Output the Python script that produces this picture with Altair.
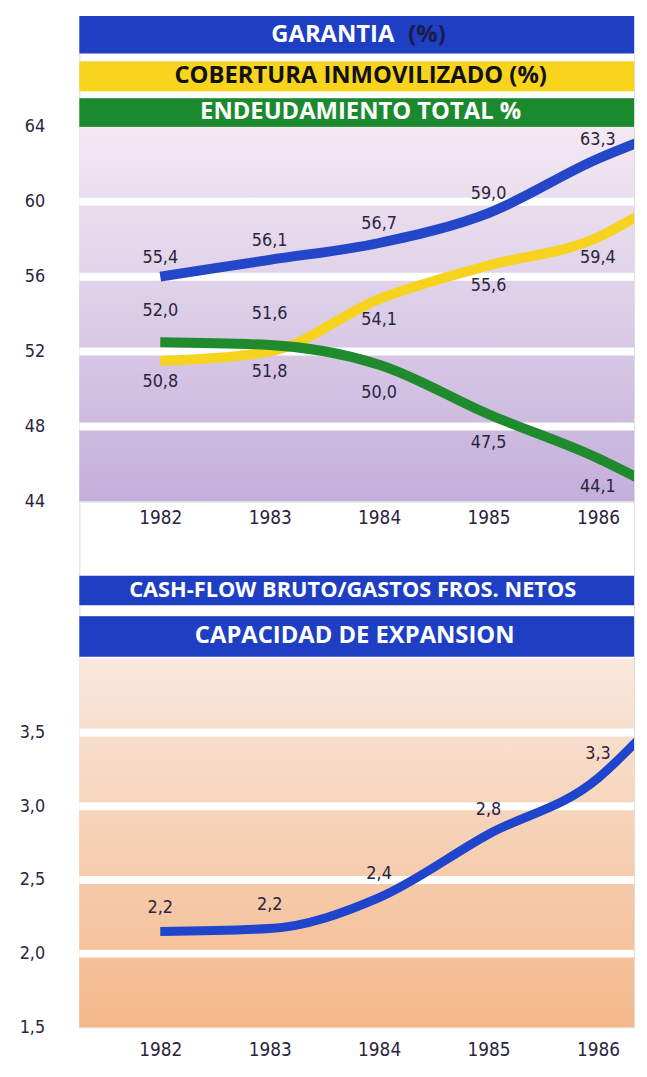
import altair as alt
import pandas as pd

# ---------------- data ----------------
years = [1982, 1983, 1984, 1985, 1986]
# vertices of the drawn curves (the last vertex sits on the right frame)
line_x = [1982, 1983, 1984, 1985, 1986, 1986.38]
garantia_line = [56.0, 56.9, 57.8, 59.4, 62.3, 63.2]
cobertura_line = [51.5, 52.0, 54.8, 56.6, 58.1, 59.3]
endeud_line = [52.5, 52.35, 51.3, 48.65, 46.3, 45.2]
capacidad_line = [2.15, 2.17, 2.38, 2.81, 3.19, 3.46]

garantia_lbl = ["55,4", "56,1", "56,7", "59,0", "63,3"]
cobertura_lbl = ["50,8", "51,8", "54,1", "55,6", "59,4"]
endeud_lbl = ["52,0", "51,6", "50,0", "47,5", "44,1"]
capacidad_lbl = ["2,2", "2,2", "2,4", "2,8", "3,3"]

top_ticks = [44, 48, 52, 56, 60, 64]
top_grid = [48, 52, 56, 60]
bot_ticks = [1.5, 2.0, 2.5, 3.0, 3.5]
bot_grid = [2.0, 2.5, 3.0, 3.5]

series = ["Cobertura", "Endeudamiento", "Garantia"]
series_col = ["#f6d31f", "#1f8b2c", "#2347c8"]

W = 560
NUM_FONT = "Liberation Sans Narrow, DejaVu Sans Condensed, Open Sans, sans-serif"
HDR_FONT = "Open Sans, Lato, sans-serif"
INK = "#2a2440"
TXT_X = 284  # centre of the header lettering, measured from the plot's left edge

xscale = alt.Scale(domain=[1981.26, 1986.33], nice=False, zero=False)
yscale_top = alt.Scale(domain=[44, 64], nice=False, zero=False)
yscale_bot = alt.Scale(domain=[1.5, 4.0], nice=False, zero=False)

lbl_expr = "replace(format(datum.value, '.1f'), '.', ',')"


def x_axis(pad):
    return alt.Axis(values=years, format="d", title=None, grid=False, ticks=False,
                    domain=False, labelPadding=pad, labelFont=NUM_FONT, labelFontSize=19,
                    labelColor=INK)


def y_axis(vals, expr=None):
    kw = dict(values=vals, title=None, grid=False, ticks=False, domain=False,
              labelPadding=35, minExtent=71, labelFont=NUM_FONT, labelFontSize=18,
              labelColor=INK, labelBaseline="middle")
    if expr:
        kw["labelExpr"] = expr
    return alt.Axis(**kw)


def gradient(stops):
    return alt.Gradient(gradient="linear", x1=0, x2=0, y1=0, y2=1,
                        stops=[alt.GradientStop(color=c, offset=o) for o, c in stops])


one = pd.DataFrame({"a": [0]})

# ---------------- top panel ----------------
lines_top = pd.DataFrame({
    "x": line_x * 3,
    "v": cobertura_line + endeud_line + garantia_line,
    "s": ["Cobertura"] * 6 + ["Endeudamiento"] * 6 + ["Garantia"] * 6,
})
rows = []
for name, vals, lbls in [("Garantia", garantia_line, garantia_lbl),
                         ("Cobertura", cobertura_line, cobertura_lbl),
                         ("Endeudamiento", endeud_line, endeud_lbl)]:
    for i, yr in enumerate(years):
        side = "above"
        if name == "Cobertura":
            side = "below"
        if name == "Endeudamiento" and endeud_line[i] < cobertura_line[i]:
            side = "below"
        rows.append({"x": yr, "v": vals[i], "t": lbls[i], "s": name, "side": side})
labels_top = pd.DataFrame(rows)

axX_top = x_axis(7)
axY_top = y_axis(top_ticks)

bg_top = alt.Chart(one).mark_rect(
    color=gradient([(0, "#f3e9f2"), (0.5, "#dccde7"), (1, "#c4afdb")])
).encode(x=alt.value(0), x2=alt.value("width"), y=alt.value(0), y2=alt.value("height"))

grid_top = alt.Chart(pd.DataFrame({"v": top_grid})).mark_rule(
    color="white", strokeWidth=8
).encode(y=alt.Y("v:Q", scale=yscale_top, axis=axY_top))

line_top = alt.Chart(lines_top).mark_line(
    strokeWidth=10, interpolate="monotone", strokeCap="butt", strokeJoin="round", clip=True
).encode(
    x=alt.X("x:Q", scale=xscale, axis=axX_top),
    y=alt.Y("v:Q", scale=yscale_top, axis=axY_top),
    color=alt.Color("s:N", scale=alt.Scale(domain=series, range=series_col), legend=None),
)


def lbl_layer(data, flt, dy, xs, ys, axX, axY):
    return alt.Chart(data).transform_filter(flt).mark_text(
        dy=dy, font=NUM_FONT, fontSize=18, color=INK, baseline="middle"
    ).encode(x=alt.X("x:Q", scale=xs, axis=axX), y=alt.Y("v:Q", scale=ys, axis=axY),
             text="t:N")


txt_top = [
    lbl_layer(labels_top, "datum.s == 'Garantia'", -19, xscale, yscale_top, axX_top, axY_top),
    lbl_layer(labels_top, "datum.s == 'Cobertura'", 21, xscale, yscale_top, axX_top, axY_top),
    lbl_layer(labels_top, "datum.s == 'Endeudamiento' && datum.side == 'above'", -31,
              xscale, yscale_top, axX_top, axY_top),
    lbl_layer(labels_top, "datum.s == 'Endeudamiento' && datum.side == 'below'", 29,
              xscale, yscale_top, axX_top, axY_top),
]

top_plot = alt.layer(bg_top, grid_top, line_top, *txt_top).properties(width=W, height=378)

# ---------------- bottom panel ----------------
lines_bot = pd.DataFrame({"x": line_x, "v": capacidad_line})
labels_bot = pd.DataFrame({"x": years, "v": capacidad_line[:5], "t": capacidad_lbl})

axX_bot = x_axis(13)
axY_bot = y_axis(bot_ticks, lbl_expr)

bg_bot = alt.Chart(one).mark_rect(
    color=gradient([(0, "#f9e8de"), (0.5, "#f6d0b4"), (1, "#f4b88a")])
).encode(x=alt.value(0), x2=alt.value("width"), y=alt.value(0), y2=alt.value("height"))

grid_bot = alt.Chart(pd.DataFrame({"v": bot_grid})).mark_rule(
    color="white", strokeWidth=8
).encode(y=alt.Y("v:Q", scale=yscale_bot, axis=axY_bot))

line_bot = alt.Chart(lines_bot).mark_line(
    strokeWidth=9, interpolate="monotone", strokeCap="butt", strokeJoin="round",
    color="#1f45cc", clip=True
).encode(x=alt.X("x:Q", scale=xscale, axis=axX_bot),
         y=alt.Y("v:Q", scale=yscale_bot, axis=axY_bot))

txt_bot = alt.Chart(labels_bot).mark_text(
    dy=-24, font=NUM_FONT, fontSize=18, color=INK, baseline="middle"
).encode(x=alt.X("x:Q", scale=xscale, axis=axX_bot),
         y=alt.Y("v:Q", scale=yscale_bot, axis=axY_bot), text="t:N")

bot_plot = alt.layer(bg_bot, grid_bot, line_bot, txt_bot).properties(width=W, height=372)


# ---------------- header bands ----------------
def header(parts, fill, total_h, top, bar_h):
    layers = [alt.Chart(one).mark_rect(color=fill).encode(
        x=alt.value(0), x2=alt.value("width"), y=alt.value(top), y2=alt.value(top + bar_h))]
    for txt, col, size, align, xpos in parts:
        layers.append(alt.Chart(pd.DataFrame({"t": [txt]})).mark_text(
            font=HDR_FONT, fontWeight="bold", fontSize=size, color=col,
            align=align, baseline="middle"
        ).encode(x=alt.value(xpos), y=alt.value(top + bar_h / 2), text="t:N"))
    return alt.layer(*layers).properties(width=W, height=total_h)


h_gar = header([("GARANTIA", "white", 24, "right", 318),
                ("(%)", "#1c1c4a", 24, "left", 332)], "#1e3fc4", 46, 0, 38)
h_cob = header([("COBERTURA INMOVILIZADO (%)", "#111111", 24, "center", TXT_X)],
               "#f8d41c", 37, 0, 30)
h_end = header([("ENDEUDAMIENTO TOTAL %", "white", 24, "center", TXT_X)],
               "#1b8a2e", 29, 0, 29)
h_cash = header([("CASH-FLOW BRUTO/GASTOS FROS. NETOS", "white", 22, "center", TXT_X - 8)],
                "#1e3fc4", 116, 75, 30)
h_cap = header([("CAPACIDAD DE EXPANSION", "white", 24, "center", TXT_X - 6)],
               "#1e3fc4", 43, 0, 41)

chart = alt.vconcat(
    h_gar, h_cob, h_end, top_plot, h_cash, h_cap, bot_plot, spacing=0, bounds="flush"
).properties(
    padding={"top": 2, "left": 0, "right": 0, "bottom": 0}
).configure_view(stroke=None).configure(background="white")

chart.save("out.html", embed_options={"renderer": "svg", "actions": False})
